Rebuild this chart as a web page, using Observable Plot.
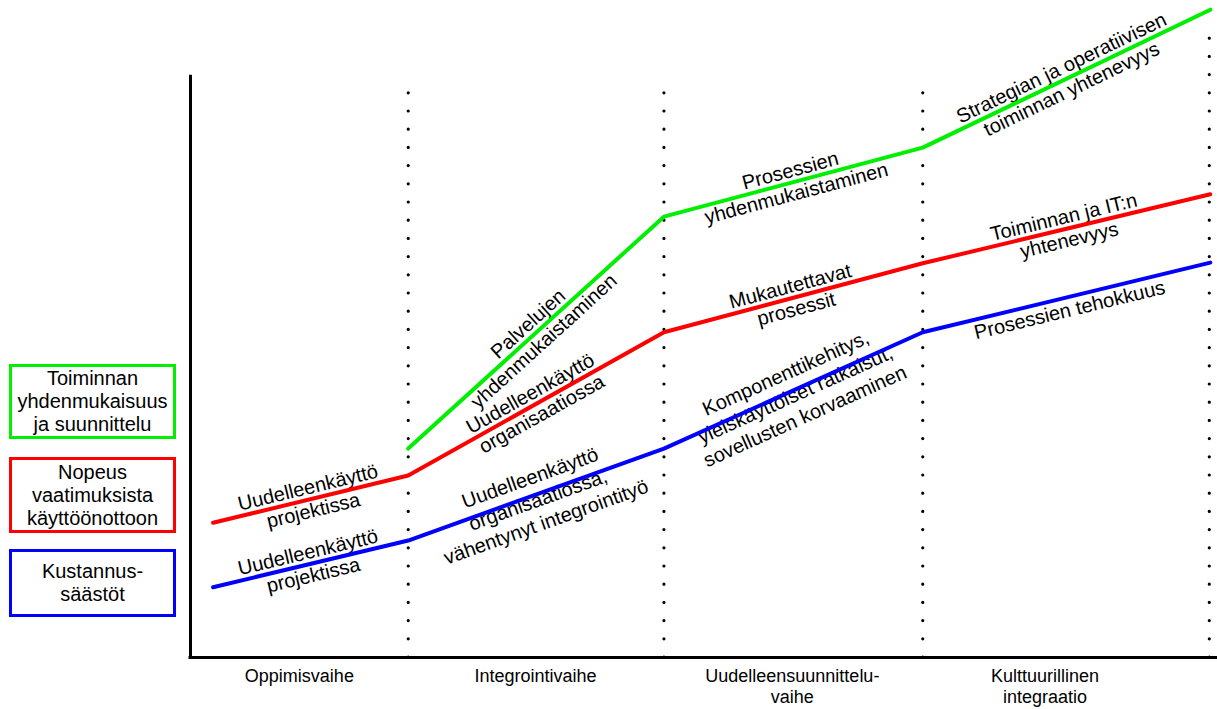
<!DOCTYPE html>
<html><head><meta charset="utf-8">
<script src="https://cdn.jsdelivr.net/npm/d3@7"></script>
<script src="https://cdn.jsdelivr.net/npm/@observablehq/plot@0.6"></script>
<style>
body{margin:0;background:#fff;font-family:"Liberation Sans",Arial,sans-serif;}
#wrap{position:relative;width:1217px;height:709px;overflow:hidden;}
.legend{position:absolute;left:9px;width:167px;border:3px solid;box-sizing:border-box;display:flex;align-items:center;justify-content:center;text-align:center;font-size:20px;line-height:23px;color:#000;white-space:pre-line;}
</style></head><body><div id="wrap"></div>
<script>
// ---- data ----
const phaseNames = ["Oppimisvaihe", "Integrointivaihe", "Uudelleensuunnittelu-\nvaihe", "Kulttuurillinen\nintegraatio"];
const phaseLabelX = [10.6, 33.6, 58.6, 83.2];
const boundaryX = [21.2, 46.1, 71.3, 99.2];
const boundaryTop = [88.6, 88.6, 88.6, 95.9];

const seriesKeys = ["green", "red", "blue"];
const seriesNames = ["Toiminnan\nyhdenmukaisuus\nja suunnittelu", "Nopeus\nvaatimuksista\nkäyttöönottoon", "Kustannus-\nsäästöt"];
const seriesColors = ["#00ee00", "#ff0000", "#0000ff"];

const greenX = [21.2, 46.1, 71.3, 99.3];
const greenY = [31.8, 67.1, 77.6, 98.6];
const redX = [2.2, 21.2, 46.1, 71.3, 99.3];
const redY = [20.5, 27.7, 49.5, 60.0, 70.5];
const blueX = [2.2, 21.2, 46.1, 71.3, 99.3];
const blueY = [10.7, 17.8, 31.8, 49.5, 60.1];

// segment labels: series, segment index within series, text lines, perpendicular offset
const labelSeries = ["red", "blue", "green", "red", "blue", "green", "red", "blue", "green", "red", "blue"];
const labelSegment = [0, 0, 0, 1, 1, 1, 2, 2, 2, 3, 3];
const labelTexts = [
  ["Uudelleenkäyttö", "projektissa"],
  ["Uudelleenkäyttö", "projektissa"],
  ["Palvelujen", "yhdenmukaistaminen"],
  ["Uudelleenkäyttö", "organisaatiossa"],
  ["Uudelleenkäyttö", "organisaatiossa,", "vähentynyt integrointityö"],
  ["Prosessien", "yhdenmukaistaminen"],
  ["Mukautettavat", "prosessit"],
  ["Komponenttikehitys,", "yleiskäyttöiset ratkaisut,", "sovellusten korvaaminen"],
  ["Strategian ja operatiivisen", "toiminnan yhtenevyys"],
  ["Toiminnan ja IT:n", "yhtenevyys"],
  ["Prosessien tehokkuus"]
];
const labelOffset = [0, 0, 0, 0, 6, 0, 0, 5, 0, 0, 13];

// ---- layout ----
const W = 1217, H = 709, mL = 190, mR = 0, mT = 0, mB = 52;
const LINE_GAP = 23.5;
const sx = Plot.scale({x: {domain: [0, 100], range: [mL, W - mR]}});
const sy = Plot.scale({y: {domain: [0, 100], range: [H - mB, mT]}});

const seriesData = {green: [greenX, greenY], red: [redX, redY], blue: [blueX, blueY]};
const lineRows = [];
for (const k of seriesKeys) {
  const [xs, ys] = seriesData[k];
  xs.forEach((x, i) => lineRows.push({series: k, x, y: ys[i]}));
}
const colorOf = Object.fromEntries(seriesKeys.map((k, i) => [k, seriesColors[i]]));

const labelRows = [];
labelTexts.forEach((lines, j) => {
  const [xs, ys] = seriesData[labelSeries[j]];
  const s = labelSegment[j];
  const x1 = sx.apply(xs[s]), y1 = sy.apply(ys[s]);
  const x2 = sx.apply(xs[s + 1]), y2 = sy.apply(ys[s + 1]);
  const a = Math.atan2(y2 - y1, x2 - x1);
  const mx = (x1 + x2) / 2, my = (y1 + y2) / 2;
  const n = lines.length;
  lines.forEach((t, i) => {
    const d = (i - (n - 1) / 2) * LINE_GAP + labelOffset[j];
    const px = mx - d * Math.sin(a), py = my + d * Math.cos(a);
    labelRows.push({text: t, x: sx.invert(px), y: sy.invert(py), rotate: a * 180 / Math.PI});
  });
});

const boundaryRows = boundaryX.map((x, i) => ({x, top: boundaryTop[i]}));
const phaseRows = phaseNames.map((t, i) => ({text: t, x: phaseLabelX[i]}));

const chart = Plot.plot({
  width: W, height: H,
  marginLeft: mL, marginRight: mR, marginTop: mT, marginBottom: mB,
  x: {domain: [0, 100], axis: null},
  y: {domain: [0, 100], axis: null},
  style: {fontFamily: '"Liberation Sans", Arial, sans-serif', background: "white", overflow: "visible"},
  marks: [
    Plot.ruleX(boundaryRows, {x: "x", y1: 0, y2: "top", stroke: "black", strokeWidth: 3.2, strokeDasharray: "0 18.2", strokeLinecap: "round"}),
    Plot.ruleX([0], {y1: 0, y2: 88.4, stroke: "black", strokeWidth: 3, strokeLinecap: "square"}),
    Plot.ruleY([0], {x1: 0, x2: 100, stroke: "black", strokeWidth: 3, strokeLinecap: "square"}),
    Plot.text(labelRows, {x: "x", y: "y", text: "text", rotate: "rotate", fontSize: 20, fill: "black"}),
    Plot.line(lineRows, {x: "x", y: "y", z: "series", stroke: d => colorOf[d.series], strokeWidth: 4, strokeLinejoin: "miter"}),
    Plot.text(phaseRows, {x: "x", y: 0, text: "text", dy: 9, lineAnchor: "top", lineHeight: 1.2, fontSize: 18, fill: "black"})
  ]
});
const wrap = document.getElementById("wrap");
wrap.appendChild(chart);

const boxTops = [364, 457, 549];
const boxHeights = [75, 76, 68];
seriesNames.forEach((name, i) => {
  const div = document.createElement("div");
  div.className = "legend";
  div.style.top = boxTops[i] + "px";
  div.style.height = boxHeights[i] + "px";
  div.style.borderColor = seriesColors[i];
  div.textContent = name;
  wrap.appendChild(div);
});
</script></body></html>
